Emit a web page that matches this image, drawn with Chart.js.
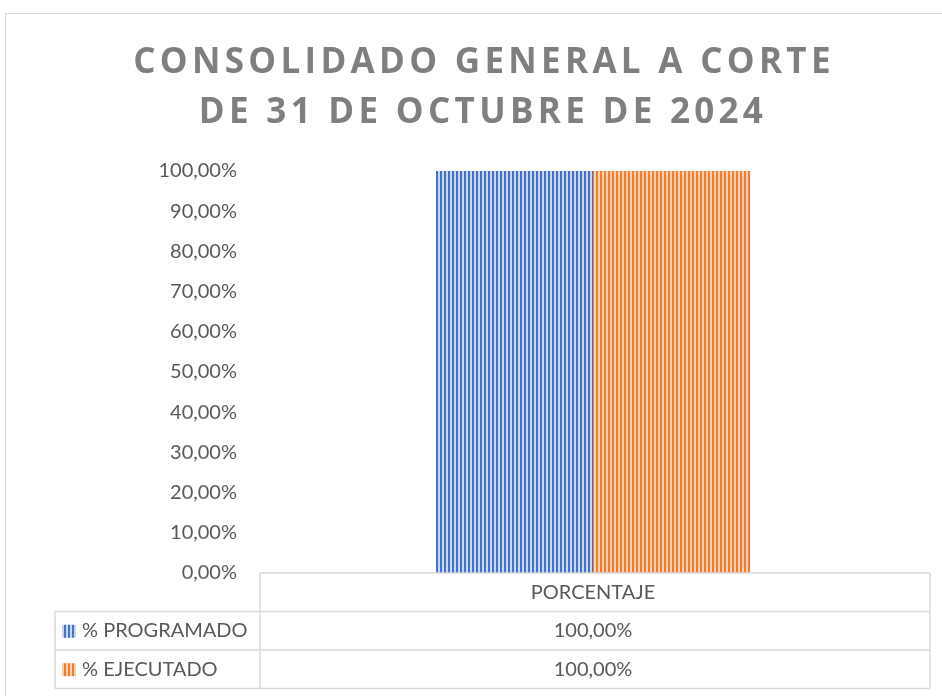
<!DOCTYPE html>
<html>
<head>
<meta charset="utf-8">
<script src="https://cdn.jsdelivr.net/npm/chart.js@4.4.0/dist/chart.umd.min.js"></script>
<style>
  html, body { margin: 0; padding: 0; background: #fff; }
  #wrap { width: 942px; height: 696px; }
</style>
</head>
<body>
<div id="wrap"><canvas id="grafica" width="942" height="696"></canvas></div>
<script>
// datos del grafico
let categorias = ['PORCENTAJE'];
let programado = [1.0];
let ejecutado = [1.0];
let series = ['% PROGRAMADO', '% EJECUTADO'];
let titulo = ['CONSOLIDADO GENERAL A CORTE', 'DE 31 DE OCTUBRE DE 2024'];

function fmtPct(v) {
    return (v * 100).toFixed(2).replace('.', ',') + '%';
}

// rayas verticales como en excel
function rayas(oscuro, claro) {
    let c = document.createElement('canvas');
    c.width = 4; c.height = 4;
    let x = c.getContext('2d');
    x.fillStyle = claro;
    x.fillRect(0, 0, 4, 4);
    x.fillStyle = oscuro;
    x.fillRect(0, 0, 2, 4);
    return x.createPattern(c, 'repeat');
}

let azul = rayas('#4472C4', '#c9d6ef');
let naranja = rayas('#ED7D31', '#f9cfb2');

const tablaPlugin = {
    id: 'tabla',
    beforeDraw(chart) {
        let ctx = chart.ctx;
        ctx.save();
        ctx.strokeStyle = '#d9d9d9';
        ctx.lineWidth = 1;
        ctx.strokeRect(5.5, 13.5, 1000, 1000);
        ctx.restore();
    },
    afterDraw(chart) {
        let ctx = chart.ctx;
        let area = chart.chartArea;
        ctx.save();

        // titulo
        ctx.fillStyle = '#7f7f7f';
        ctx.font = 'bold 35px "Open Sans"';
        ctx.textAlign = 'center';
        ctx.textBaseline = 'middle';
        ctx.letterSpacing = '4.3px';
        ctx.fillText(titulo[0], 482 + 2, 63);
        ctx.fillText(titulo[1], 481 + 2, 113);
        ctx.letterSpacing = '0px';

        // tabla de datos
        let top = area.bottom;
        let fila = 38.5;
        let izq = 55;
        let sep = area.left;
        let der = area.right + 4;
        ctx.strokeStyle = '#d9d9d9';
        ctx.lineWidth = 1.5;
        ctx.beginPath();
        ctx.moveTo(sep, top); ctx.lineTo(der, top);
        ctx.moveTo(izq, top + fila); ctx.lineTo(der, top + fila);
        ctx.moveTo(izq, top + fila * 2); ctx.lineTo(der, top + fila * 2);
        ctx.moveTo(izq, top + fila * 3); ctx.lineTo(der, top + fila * 3);
        ctx.moveTo(sep, top); ctx.lineTo(sep, top + fila * 3);
        ctx.moveTo(der, top); ctx.lineTo(der, top + fila * 3);
        ctx.moveTo(izq, top + fila); ctx.lineTo(izq, top + fila * 3);
        ctx.stroke();

        ctx.fillStyle = '#595959';
        ctx.font = '20px Lato';
        ctx.textBaseline = 'middle';
        ctx.textAlign = 'center';
        let xs = chart.scales.x;
        categorias.forEach((cat, i) => {
            let cx = xs.getPixelForValue(i);
            ctx.fillText(cat, cx, top + fila / 2);
            ctx.fillText(fmtPct(programado[i]), cx, top + fila * 1.5);
            ctx.fillText(fmtPct(ejecutado[i]), cx, top + fila * 2.5);
        });

        let claves = [azul, naranja];
        series.forEach((s, i) => {
            let cy = top + fila * (1.5 + i);
            ctx.fillStyle = claves[i];
            ctx.fillRect(62, cy - 6, 14, 13);
            ctx.fillStyle = '#595959';
            ctx.textAlign = 'left';
            ctx.fillText(s, 82, cy);
        });
        ctx.restore();
    }
};

var ctxG = document.getElementById('grafica').getContext('2d');
var grafica = new Chart(ctxG, {
    type: 'bar',
    data: {
        labels: categorias,
        datasets: [{
            label: series[0],
            data: programado,
            backgroundColor: azul,
            borderWidth: 0
        }, {
            label: series[1],
            data: ejecutado,
            backgroundColor: naranja,
            borderWidth: 0
        }]
    },
    options: {
        responsive: false,
        animation: false,
        categoryPercentage: 0.4715,
        barPercentage: 1,
        layout: {
            padding: { top: 171, bottom: 123, left: 0, right: 16 }
        },
        plugins: {
            legend: { display: false },
            title: { display: false },
            tooltip: { enabled: false }
        },
        scales: {
            x: {
                display: false
            },
            y: {
                min: 0,
                max: 1,
                afterFit(scale) { scale.width = 260; },
                grid: { display: false, drawTicks: false },
                border: { display: false },
                ticks: {
                    stepSize: 0.1,
                    padding: 23,
                    color: '#595959',
                    font: { family: 'Lato', size: 20 },
                    callback: v => fmtPct(v)
                }
            }
        }
    },
    plugins: [tablaPlugin]
});
</script>
</body>
</html>
